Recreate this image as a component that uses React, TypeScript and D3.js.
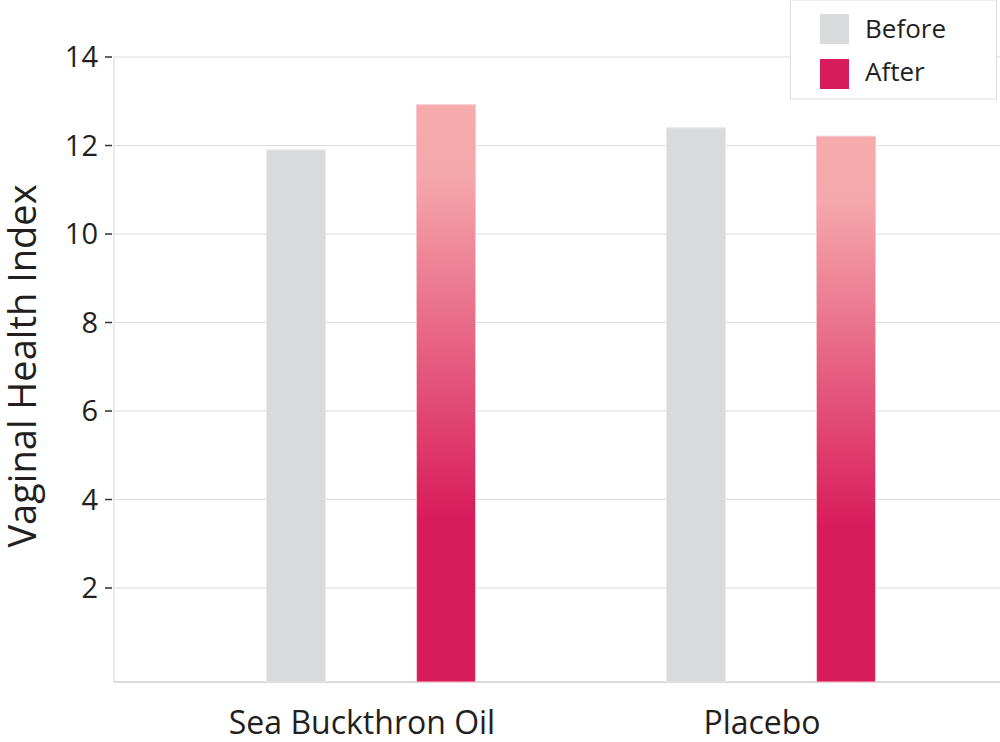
import React from "react";
import * as d3 from "d3";

const categories = ["Sea Buckthron Oil", "Placebo"];
const seriesNames = ["Before", "After"];
const beforeValues = [11.9, 12.4];
const afterValues = [12.92, 12.21];
const yTicks = [2, 4, 6, 8, 10, 12, 14];

const W = 1000;
const H = 742;
const FONT = "'Open Sans', sans-serif";

export default function App() {
  const plotLeft = 114;
  const plotRight = 1000;
  const plotTop = 57;
  const y = d3.scaleLinear().domain([-0.124, 14]).range([682, plotTop]);
  const x0 = d3.scaleBand<string>().domain(categories).range([171, 971]).padding(0);
  const x1 = d3
    .scaleBand<string>()
    .domain(seriesNames)
    .range([95.5, 304.5])
    .paddingInner(0.607)
    .paddingOuter(0);

  const data = categories.map((c, i) => ({
    cat: c,
    values: [
      { key: "Before", v: beforeValues[i] },
      { key: "After", v: afterValues[i] },
    ],
  }));

  return (
    <svg width={W} height={H} style={{ position: "absolute", left: 0, top: 0, background: "#fff" }}>
      <defs>
        <linearGradient id="afterGrad" x1="0" y1="0" x2="0" y2="1">
          <stop offset="0" stopColor="#f6abad" />
          <stop offset="0.12" stopColor="#f5a8ab" />
          <stop offset="0.72" stopColor="#d81b5b" />
          <stop offset="1" stopColor="#d81b5b" />
        </linearGradient>
      </defs>
      {yTicks.map((t) => (
        <line key={t} x1={plotLeft} x2={plotRight} y1={y(t)} y2={y(t)} stroke="#dcdcdc" strokeWidth={1.2} />
      ))}
      <line x1={plotLeft} x2={plotLeft} y1={plotTop} y2={y.range()[0]} stroke="#dcdcdc" strokeWidth={1.2} />
      <line x1={plotLeft} x2={plotRight} y1={y.range()[0]} y2={y.range()[0]} stroke="#cfcfcf" strokeWidth={1.5} />
      {yTicks.map((t) => (
        <g key={"t" + t}>
          <line x1={105} x2={112} y1={y(t)} y2={y(t)} stroke="#333" strokeWidth={1.5} />
          <text x={98} y={y(t)} dy="0.36em" textAnchor="end" fontFamily={FONT} fontSize={29} fill="#231f20">
            {t}
          </text>
        </g>
      ))}
      {data.map((d) => (
        <g key={d.cat} transform={`translate(${x0(d.cat)},0)`}>
          {d.values.map((b) => (
            <rect
              key={b.key}
              x={x1(b.key)}
              y={y(b.v)}
              width={x1.bandwidth()}
              height={y.range()[0] - y(b.v)}
              fill={b.key === "Before" ? "#d9dadc" : "url(#afterGrad)"}
              stroke={b.key === "Before" ? "#e6e7e8" : "#f9c6cc"}
              strokeWidth={1}
            />
          ))}
          <text
            x={x0.bandwidth() / 2 - 9}
            y={734}
            textAnchor="middle"
            fontFamily={FONT}
            fontSize={32}
            fill="#231f20"
          >
            {d.cat}
          </text>
        </g>
      ))}
      <text
        transform={`translate(36,${366}) rotate(-90)`}
        textAnchor="middle"
        fontFamily={FONT}
        fontSize={38}
        fill="#231f20"
      >
        Vaginal Health Index
      </text>
      <rect x={790.5} y={0} width={206} height={99} fill="#fff" stroke="#dcdcdc" strokeWidth={1} />
      {seriesNames.map((s, i) => (
        <g key={s}>
          <rect
            x={820}
            y={14 + i * 45}
            width={29}
            height={30}
            fill={s === "Before" ? "#d9dadc" : "#d81b5b"}
          />
          <text x={865} y={38 + i * 43} fontFamily={FONT} fontSize={26} fill="#231f20">
            {s}
          </text>
        </g>
      ))}
    </svg>
  );
}
